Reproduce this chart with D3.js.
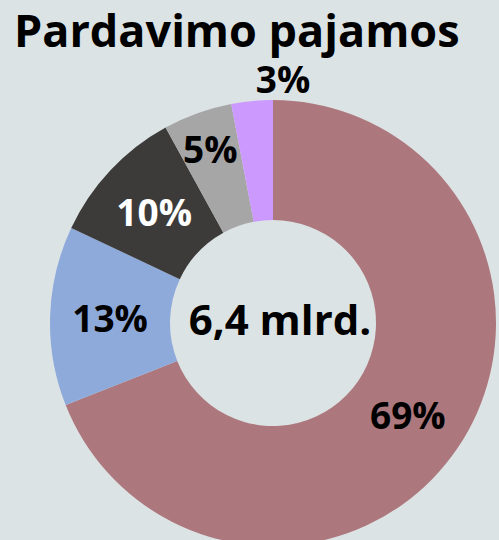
<!DOCTYPE html>
<html>
<head>
<meta charset="utf-8">
<script src="https://cdn.jsdelivr.net/npm/d3@7"></script>
<style>
  html, body { margin: 0; padding: 0; background: #dce3e5; overflow: hidden; }
  text { font-family: "Open Sans", "Noto Sans", sans-serif; font-weight: 700; }
</style>
</head>
<body>
<div id="container"></div>
<script>
/* CONSTANTS AND GLOBALS */
const width = 499,
  height = 540;

// DATA
const categories = ["A", "B", "C", "D", "E"];
const shares = [69, 13, 10, 5, 3];
const labels = ["69%", "13%", "10%", "5%", "3%"];
const colors = ["#ad787d", "#8eaadb", "#3d3b3a", "#a6a6a6", "#cc99ff"];
const labelColors = ["#000", "#000", "#fff", "#000", "#000"];
const title = "Pardavimo pajamos";
const centerText = "6,4 mlrd.";

const cx = 273, cy = 323,
  outerR = 223, innerR = 103;

const svg = d3.select("#container")
  .append("svg")
  .attr("width", width)
  .attr("height", height);

// title
svg.append("text")
  .attr("x", 14)
  .attr("y", 47)
  .attr("font-size", 45)
  .attr("fill", "#000")
  .text(title);

const pie = d3.pie().sort(null).value(d => d)
const arcs = pie(shares)

const arcGen = d3.arc().innerRadius(innerR).outerRadius(outerR)

const g = svg.append("g").attr("transform", `translate(${cx}, ${cy})`)

g.selectAll("path")
  .data(arcs)
  .join("path")
  .attr("d", arcGen)
  .attr("fill", (d, i) => colors[i])

// label radius: centroid for big slices, pushed out for the small ones
const labelR = [163, 163, 163, 185, 246]
g.selectAll("text.lbl")
  .data(arcs)
  .join("text")
  .attr("class", "lbl")
  .attr("text-anchor", "middle")
  .attr("dominant-baseline", "central")
  .attr("font-size", 37)
  .attr("fill", (d, i) => labelColors[i])
  .attr("transform", (d, i) => {
    const a = (d.startAngle + d.endAngle) / 2
    let x = Math.sin(a) * labelR[i]
    const y = -Math.cos(a) * labelR[i]
    if (i === 4) x = 10
    return `translate(${x}, ${y})`
  })
  .text((d, i) => labels[i])

// center total
g.append("text")
  .attr("x", 7)
  .attr("y", -5)
  .attr("text-anchor", "middle")
  .attr("dominant-baseline", "central")
  .attr("font-size", 42)
  .attr("fill", "#000")
  .text(centerText)
</script>
</body>
</html>
